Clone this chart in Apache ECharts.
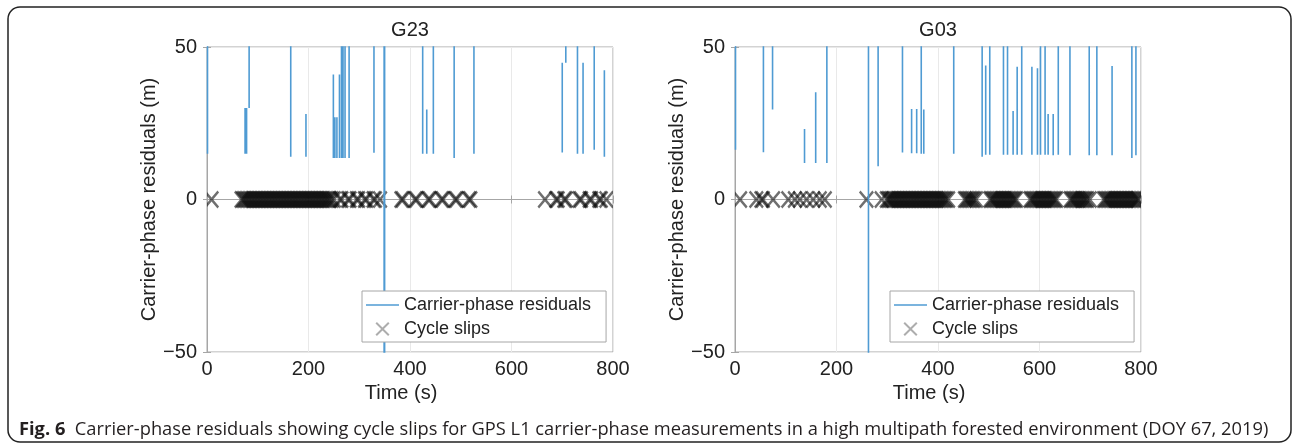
<!DOCTYPE html>
<html><head><meta charset="utf-8">
<script src="https://cdn.jsdelivr.net/npm/echarts@6/dist/echarts.min.js"></script>
<style>html,body{margin:0;padding:0;background:#fff;}#c{width:1293px;height:444px;}</style>
</head><body><div id="c"></div>
<script>
// ---------- DATA ----------
const panelTitles = ['G23', 'G03'];
const xTickValues = [0, 200, 400, 600, 800];
const yTickValues = [-50, 0, 50];
const seriesNames = ['Carrier-phase residuals', 'Cycle slips'];

// Residual spikes: time (s), lower end (m), upper end (m); 60 / -60 = beyond the axis range
const g23SpikeT    = [1, 75, 78, 83, 165, 195, 249, 252, 256, 261, 265, 268, 272, 280, 329, 349, 350, 425, 433, 446, 487, 526, 700, 707, 730, 741, 763, 783];
const g23SpikeLow  = [15, 15, 15, 30, 14, 14, 13.6, 13.6, 13.6, 13.6, 13.6, 13.6, 13.6, 13.6, 15.3, -60, -60, 15, 15, 15, 13.6, 15, 15.4, 44.8, 15, 15, 16.3, 14];
const g23SpikeHigh = [60, 30, 30, 60, 60, 28, 41, 27, 27, 41, 60, 60, 60, 60, 60, 60, 60, 60, 29.5, 60, 60, 60, 44.8, 60, 60, 44.8, 60, 42.4];

const g03SpikeT    = [1, 56, 74, 137, 159, 181, 263, 282, 330, 348, 358, 367, 372, 431, 487, 494, 502, 529, 537, 548, 556, 565, 585, 596, 602, 611, 617, 627, 637, 660, 698, 713, 743, 782, 790];
const g03SpikeLow  = [16.3, 15.5, 29.5, 12, 12, 12, -60, 10.9, 15.4, 15.2, 15.2, 15, 15, 15, 14, 14.7, 14.7, 14.7, 14.7, 14.7, 14.7, 14.7, 14.7, 14.7, 14.7, 14.7, 14.7, 14.5, 14.7, 14.5, 14.5, 14.5, 14.5, 13.6, 14.5];
const g03SpikeHigh = [60, 60, 60, 23.1, 35.2, 60, 60, 60, 60, 29.7, 29.7, 60, 29.5, 60, 60, 43.9, 60, 60, 60, 29, 43.5, 60, 43.5, 43, 60, 60, 28, 28, 60, 60, 60, 60, 43.8, 60, 60];

// Cycle slip epochs (s), plotted at residual 0
const g23Slips = [9,
  68, 71, 74, 77, 80, 83, 86, 89, 92, 95, 98, 101, 104, 107, 110, 113, 116, 119, 122, 125, 128, 131, 134, 137, 140,
  143, 146, 149, 152, 155, 158, 161, 164, 167, 170, 173, 176, 179, 182, 185, 188, 191, 194, 197, 200, 203, 206, 209,
  212, 215, 218, 221, 224, 227, 230, 233, 236, 239, 242,
  246, 250, 262, 265, 278, 281, 295, 298, 311, 314, 328, 331, 341,
  383, 386, 410, 413, 436, 439, 462, 465, 489, 492, 516, 519,
  666, 688, 691, 704, 707, 734, 737, 754, 757, 773, 776, 787];
const g03Slips = [10, 42, 52, 55, 75, 105, 118, 128, 141, 154, 167, 177,
  259, 289,
  299, 302, 305, 308, 311, 314, 317, 320, 323, 326, 329, 332, 335, 338, 341, 344, 347, 350, 353, 356, 359, 362, 365,
  368, 371, 374, 377, 380, 383, 386, 389, 392, 395, 398, 401, 404, 407, 410, 413, 416, 420,
  453, 456, 459, 462, 465, 468, 471, 475,
  503, 506, 509, 512, 515, 518, 521, 524, 527, 530, 533, 536, 539, 542, 545, 548, 551, 554,
  582, 585, 588, 591, 594, 597, 600, 603, 606, 609, 612, 615, 618, 621, 624, 627, 630, 633,
  661, 664, 667, 670, 673, 676, 679, 682, 685, 688, 691, 694, 699,
  727, 730, 733, 736, 739, 742, 745, 748, 751, 754, 757, 760, 763, 766, 769, 772, 775, 778, 781, 784, 787, 790, 793, 795];

const captionBold = 'Fig. 6';
const captionText = 'Carrier-phase residuals showing cycle slips for GPS L1 carrier-phase measurements in a high multipath forested environment (DOY 67, 2019)';

// ---------- BUILD ----------
const FONT = '"Liberation Sans", Arial, Helvetica, sans-serif';
const CAPFONT = '"Open Sans", "Noto Sans", sans-serif';
const TXT = '#222';
const AX = '#a6a6a6';
const BLUE = '#4f9bd3';
const SLIP = 'rgba(15,15,15,0.6)';
const XPATH = 'path://M0,10L10,0L50,40L90,0L100,10L60,50L100,90L90,100L50,60L10,100L0,90L40,50Z';
const LINEICON = 'path://M0,0H100V5H0Z';
// X marker outline in pixels relative to the point (marker style, 15 x 18 px)
const XW = 7.5, XH = 9, XT = 1.6;
const X_SHAPE = [[-XW, -XH + XT * 1.2], [-XW + XT, -XH], [0, -XT * 1.2], [XW - XT, -XH], [XW, -XH + XT * 1.2], [XT, 0],
                 [XW, XH - XT * 1.2], [XW - XT, XH], [0, XT * 1.2], [-XW + XT, XH], [-XW, XH - XT * 1.2], [-XT, 0]];

function spikeData(ts, lows, highs) {
  const d = [];
  ts.forEach((t, i) => { d.push([t, lows[i]], [t, highs[i]], [t, '-']); });
  return d;
}
function slipData(ts) { return ts.map(t => [t, 0]); }
const fmtY = v => (v < 0 ? '\u2212' + (-v) : String(v));

const grids = [
  {left: 207, top: 47, width: 406, height: 305},
  {left: 735, top: 47, width: 406, height: 305}
].map(g => Object.assign(g, {show: true, borderColor: AX, borderWidth: 1, backgroundColor: '#fff'}));

const xAxes = [], yAxes = [];
[0, 1].forEach(gi => {
  xAxes.push({
    type: 'value', gridIndex: gi, min: xTickValues[0], max: xTickValues[xTickValues.length - 1],
    interval: xTickValues[1] - xTickValues[0],
    axisLine: {show: true, lineStyle: {color: AX}},
    axisTick: {show: true, inside: true, length: 4, lineStyle: {color: AX}},
    axisLabel: {fontSize: 20, color: TXT, fontFamily: FONT, margin: 7},
    splitLine: {show: true, lineStyle: {color: '#e9e9e9'}},
    name: 'Time (s)', nameLocation: 'middle', nameGap: 30,
    nameTextStyle: {fontSize: 20, color: TXT, fontFamily: FONT, padding: [0, 18, 0, 0]}
  });
  yAxes.push({
    type: 'value', gridIndex: gi, min: yTickValues[0], max: yTickValues[yTickValues.length - 1],
    interval: yTickValues[1] - yTickValues[0],
    axisLine: {show: true, lineStyle: {color: AX}},
    axisTick: {show: true, inside: true, length: 4, lineStyle: {color: AX}},
    axisLabel: {fontSize: 20, color: TXT, fontFamily: FONT, margin: 10, formatter: fmtY},
    splitLine: {show: true, lineStyle: {color: '#e9e9e9'}},
    name: 'Carrier-phase residuals (m)', nameLocation: 'middle', nameGap: 44,
    nameTextStyle: {fontSize: 20, color: TXT, fontFamily: FONT}
  });
});
[0, 1].forEach(gi => {
  xAxes.push({
    type: 'value', gridIndex: gi, position: 'top', min: xTickValues[0], max: xTickValues[xTickValues.length - 1],
    interval: xTickValues[1] - xTickValues[0],
    axisLine: {show: true, lineStyle: {color: AX}},
    axisTick: {show: true, inside: true, length: 4, lineStyle: {color: AX}},
    axisLabel: {show: false}, splitLine: {show: false}
  });
  yAxes.push({
    type: 'value', gridIndex: gi, position: 'right', min: yTickValues[0], max: yTickValues[yTickValues.length - 1],
    interval: yTickValues[1] - yTickValues[0],
    axisLine: {show: true, lineStyle: {color: AX}},
    axisTick: {show: true, inside: true, length: 4, lineStyle: {color: AX}},
    axisLabel: {show: false}, splitLine: {show: false}
  });
});

function renderSlip(params, api) {
  const p = api.coord([api.value(0), api.value(1)]);
  const cs = params.coordSys;
  return {
    type: 'polygon',
    shape: {points: X_SHAPE.map(d => [p[0] + d[0], p[1] + d[1]])},
    style: {fill: SLIP},
    clipPath: {type: 'rect', shape: {x: cs.x, y: cs.y, width: cs.width, height: cs.height}}
  };
}

const spikeSets = [[g23SpikeT, g23SpikeLow, g23SpikeHigh], [g03SpikeT, g03SpikeLow, g03SpikeHigh]];
const slipSets = [g23Slips, g03Slips];
const series = [];
[0, 1].forEach(gi => {
  series.push({
    name: seriesNames[1], type: 'custom', xAxisIndex: gi, yAxisIndex: gi,
    data: slipData(slipSets[gi]), renderItem: renderSlip, encode: {x: 0, y: 1},
    itemStyle: {color: SLIP}, z: 2, silent: true, animation: false
  });
  series.push({
    name: seriesNames[0], type: 'line', xAxisIndex: gi, yAxisIndex: gi,
    data: spikeData(...spikeSets[gi]), symbol: 'none', showSymbol: false, connectNulls: false, clip: true,
    lineStyle: {color: BLUE, width: 1.6}, itemStyle: {color: BLUE}, z: 3, silent: true, animation: false
  });
});

const legendCommon = {
  orient: 'vertical', top: 291, selectedMode: false,
  backgroundColor: '#fff', borderColor: AX, borderWidth: 1, padding: [5, 15, 4, 4],
  itemGap: 6, itemWidth: 33, itemHeight: 14,
  textStyle: {fontSize: 18, color: TXT, fontFamily: FONT},
  data: [{name: seriesNames[0], icon: LINEICON},
         {name: seriesNames[1], icon: XPATH, itemStyle: {color: 'rgba(20,20,20,0.35)'}}]
};

const option = {
  backgroundColor: '#fff',
  animation: false,
  title: panelTitles.map((t, i) => ({
    text: t, left: i === 0 ? 410 : 938, top: 20, textAlign: 'center', padding: 0,
    textStyle: {fontSize: 20, fontWeight: 'normal', color: TXT, fontFamily: FONT}
  })),
  grid: grids,
  xAxis: xAxes,
  yAxis: yAxes,
  legend: [Object.assign({left: 362}, legendCommon), Object.assign({left: 890}, legendCommon)],
  series: series,
  graphic: [
    {type: 'rect', shape: {x: 8, y: 7, width: 1283, height: 435, r: 12}, silent: true,
     style: {fill: 'none', stroke: '#222', lineWidth: 1.5}, z: 100},
    {type: 'text', x: 19, y: 430, silent: true, z: 100,
     style: {text: '{b|' + captionBold + '}  ' + captionText,
       fontFamily: CAPFONT, fontSize: 18.3, fill: '#231f20',
       verticalAlign: 'middle', textVerticalAlign: 'middle',
       rich: {b: {fontWeight: 'bold', fontFamily: CAPFONT, fontSize: 18.3, fill: '#231f20'}}}}
  ]
};
const chart = echarts.init(document.getElementById('c'), null, {renderer: 'canvas'});
chart.setOption(option);
</script></body></html>
